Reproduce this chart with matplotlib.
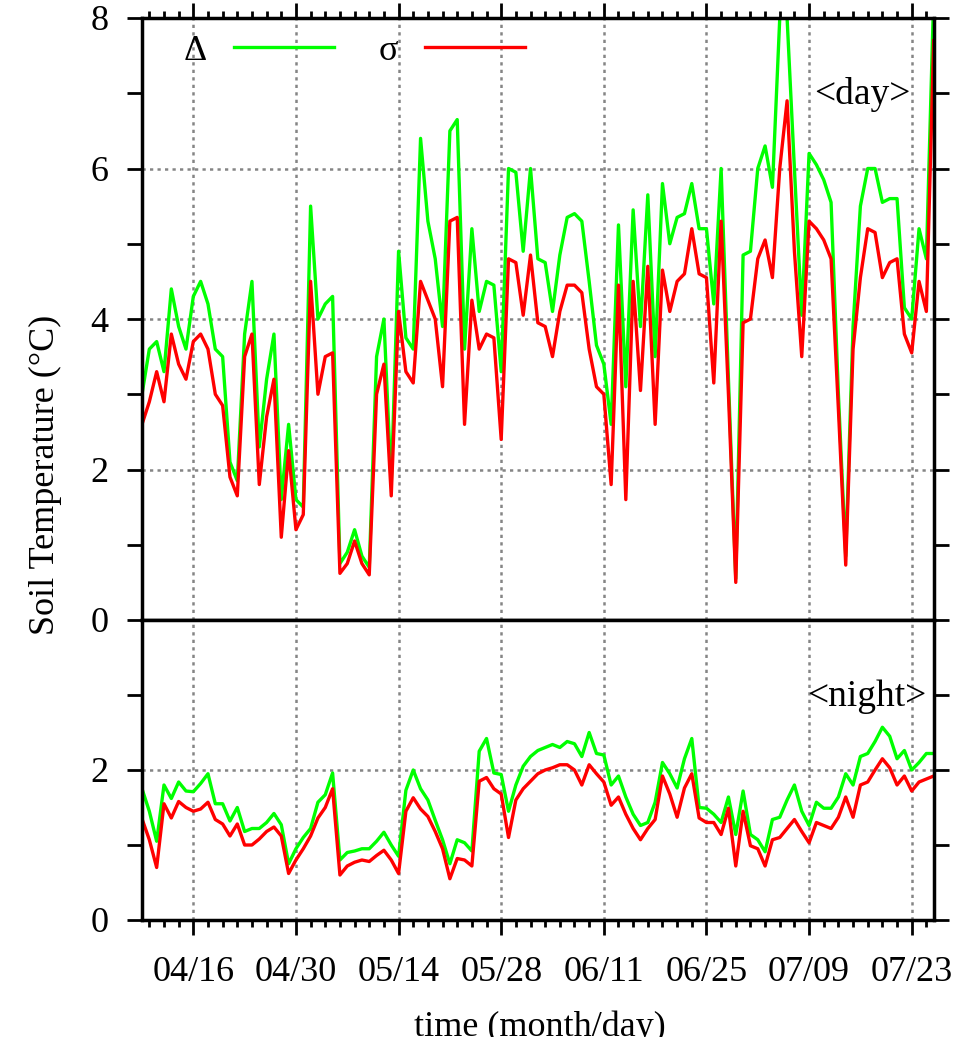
import matplotlib
matplotlib.use('Agg')
import matplotlib.pyplot as plt
import matplotlib.dates as mdates
import matplotlib.ticker as mticker
import pandas as pd

# daily values, 04/09 .. 07/26
days = pd.date_range('2010-04-09', '2010-07-26', freq='D')

day_delta = [3.0, 3.6, 3.7, 3.3, 4.4, 3.9, 3.6, 4.3, 4.5, 4.2,
             3.6, 3.5, 2.1, 1.85, 3.8, 4.5, 2.3, 3.2, 3.8, 1.6,
             2.6, 1.6, 1.5, 5.5, 4.0, 4.2, 4.3, 0.75, 0.9, 1.2,
             0.85, 0.7, 3.5, 4.0, 1.8, 4.9, 3.75, 3.6, 6.4, 5.3,
             4.8, 3.9, 6.5, 6.65, 3.6, 5.2, 4.1, 4.5, 4.45, 3.3,
             6.0, 5.95, 4.9, 6.0, 4.8, 4.75, 4.1, 4.85, 5.35, 5.4,
             5.3, 4.5, 3.65, 3.4, 2.6, 5.25, 3.1, 5.45, 3.9, 5.65,
             3.5, 5.8, 5.0, 5.35, 5.4, 5.8, 5.2, 5.2, 4.2, 6.0,
             3.2, 0.55, 4.85, 4.9, 6.0, 6.3, 5.75, 8.0, 8.0, 6.0,
             4.05, 6.2, 6.05, 5.85, 5.55, 3.0, 0.85, 3.9, 5.5, 6.0,
             6.0, 5.55, 5.6, 5.6, 4.15, 4.0, 5.2, 4.8, 8.3]
day_sigma = [2.6, 2.9, 3.3, 2.9, 3.8, 3.4, 3.2, 3.7, 3.8, 3.6,
             3.0, 2.85, 1.9, 1.65, 3.5, 3.8, 1.8, 2.7, 3.2, 1.1,
             2.25, 1.2, 1.4, 4.5, 3.0, 3.5, 3.55, 0.62, 0.75, 1.05,
             0.75, 0.6, 3.0, 3.4, 1.65, 4.1, 3.3, 3.15, 4.5, 4.25,
             4.0, 3.1, 5.3, 5.35, 2.6, 4.25, 3.6, 3.8, 3.75, 2.4,
             4.8, 4.75, 4.05, 4.85, 3.95, 3.9, 3.5, 4.1, 4.45, 4.45,
             4.35, 3.6, 3.1, 3.0, 1.8, 4.45, 1.6, 4.5, 3.05, 4.7,
             2.6, 4.65, 4.1, 4.5, 4.6, 5.2, 4.6, 4.55, 3.15, 5.3,
             3.0, 0.5, 3.95, 4.0, 4.8, 5.05, 4.55, 6.0, 6.9, 4.9,
             3.5, 5.3, 5.2, 5.05, 4.8, 2.8, 0.73, 3.6, 4.55, 5.2,
             5.15, 4.55, 4.75, 4.8, 3.8, 3.55, 4.5, 4.1, 7.7]
night_delta = [1.75, 1.45, 1.05, 1.8, 1.62, 1.84, 1.72, 1.71, 1.82, 1.95,
               1.55, 1.55, 1.32, 1.5, 1.18, 1.22, 1.22, 1.3, 1.42, 1.27,
               0.75, 0.95, 1.1, 1.22, 1.57, 1.67, 1.96, 0.8, 0.9, 0.92,
               0.95, 0.95, 1.05, 1.17, 1.0, 0.85, 1.73, 2.0, 1.75, 1.6,
               1.33, 1.07, 0.75, 1.07, 1.03, 0.92, 2.25, 2.42, 1.96, 1.94,
               1.45, 1.8, 2.05, 2.18, 2.26, 2.3, 2.34, 2.3, 2.38, 2.35,
               2.18, 2.5, 2.22, 2.2, 1.8, 1.92, 1.64, 1.41, 1.26, 1.3,
               1.57, 2.1, 1.95, 1.76, 2.15, 2.42, 1.5, 1.49, 1.41, 1.3,
               1.64, 1.14, 1.72, 1.14, 1.07, 0.91, 1.34, 1.37, 1.6, 1.8,
               1.45, 1.26, 1.57, 1.49, 1.49, 1.64, 1.95, 1.8, 2.18, 2.22,
               2.38, 2.57, 2.45, 2.15, 2.26, 2.0, 2.1, 2.22, 2.22]
night_sigma = [1.35, 1.07, 0.7, 1.55, 1.36, 1.58, 1.5, 1.45, 1.48, 1.57,
               1.34, 1.28, 1.12, 1.28, 1.0, 1.0, 1.08, 1.18, 1.24, 1.12,
               0.62, 0.8, 0.95, 1.12, 1.36, 1.5, 1.75, 0.6, 0.72, 0.77,
               0.8, 0.78, 0.86, 0.93, 0.8, 0.62, 1.45, 1.63, 1.48, 1.38,
               1.18, 0.95, 0.55, 0.82, 0.8, 0.72, 1.85, 1.9, 1.75, 1.68,
               1.1, 1.6, 1.75, 1.85, 1.95, 2.0, 2.03, 2.07, 2.07, 2.0,
               1.8, 2.07, 1.95, 1.84, 1.53, 1.64, 1.41, 1.22, 1.07, 1.22,
               1.34, 1.92, 1.68, 1.37, 1.76, 1.95, 1.36, 1.3, 1.3, 1.14,
               1.49, 0.72, 1.45, 0.99, 0.95, 0.72, 1.07, 1.1, 1.22, 1.34,
               1.18, 1.03, 1.3, 1.26, 1.22, 1.37, 1.64, 1.37, 1.8, 1.84,
               2.0, 2.15, 2.03, 1.8, 1.92, 1.72, 1.84, 1.88, 1.92]

major_dates = pd.date_range('2010-04-16', periods=8, freq='14D')
minor_dates = pd.date_range('2010-04-10', '2010-07-26', freq='2D')

plt.rcParams['font.family'] = ['Liberation Serif', 'DejaVu Serif']
plt.rcParams['font.size'] = 26

fig = plt.figure(figsize=(9.58, 10.37), dpi=100)
ax1 = fig.add_axes([142/958, 1 - 620/1037, 792/958, 602/1037])
ax2 = fig.add_axes([142/958, 1 - 920/1037, 792/958, 300/1037])

green = '#00ff00'
red = '#ff0000'
ax1.plot(days, day_delta, color=green, lw=2.4, label='Δ')
ax1.plot(days, day_sigma, color=red, lw=2.4, label='σ')
ax2.plot(days, night_delta, color=green, lw=2.4)
ax2.plot(days, night_sigma, color=red, lw=2.4)

ax1.set_ylim(0, 8)
ax1.yaxis.set_major_locator(mticker.FixedLocator([0, 2, 4, 6, 8]))
ax1.yaxis.set_minor_locator(mticker.FixedLocator([1, 3, 5, 7]))
ax2.set_ylim(0, 4)
ax2.yaxis.set_major_locator(mticker.FixedLocator([0, 2]))
ax2.yaxis.set_minor_locator(mticker.FixedLocator([1, 3]))

x0 = pd.Timestamp('2010-04-09')
x1 = pd.Timestamp('2010-07-26 01:00')
for ax in (ax1, ax2):
    ax.set_xlim(x0, x1)
    ax.xaxis.set_major_locator(mticker.FixedLocator(mdates.date2num(major_dates)))
    ax.xaxis.set_minor_locator(mticker.FixedLocator(mdates.date2num(minor_dates)))
    ax.xaxis.set_major_formatter(mdates.DateFormatter('%m/%d'))
    ax.grid(which='major', color='#858585', linestyle=(0, (1.3, 1.7)), lw=1.8)
    for s in ax.spines.values():
        s.set_linewidth(2.5)
    ax.tick_params(axis='y', which='both', direction='out', length=11, width=2,
                   left=True, right=True, pad=13)
    ax.tick_params(axis='x', which='major', direction='out', length=11, width=2, pad=15)
    ax.tick_params(axis='x', which='minor', direction='out', length=5, width=2)

ax1.tick_params(axis='x', which='both', top=True, bottom=False, labelbottom=False)
ax2.tick_params(axis='x', which='both', top=False, bottom=True)

# legend with the symbol ahead of the line sample, gnuplot style
ax1.legend(loc='upper left', bbox_to_anchor=(0.012, 1.027), ncol=2, frameon=False,
           markerfirst=False, handlelength=2.75, handletextpad=0.75,
           columnspacing=1.25, fontsize=26)

ax1.text(0.91, 0.873, '<day>', transform=ax1.transAxes, ha='center', va='center', fontsize=27)
ax2.text(0.915, 0.745, '<night>', transform=ax2.transAxes, ha='center', va='center', fontsize=27)

fig.text(45/958, 1 - 475/1037, 'Soil Temperature (°C)', rotation=90,
         ha='center', va='center', fontsize=26)
fig.text(540/958, 1 - 1010/1037, 'time (month/day)', ha='center', va='top', fontsize=26)

fig.savefig('out.png', dpi=100)
